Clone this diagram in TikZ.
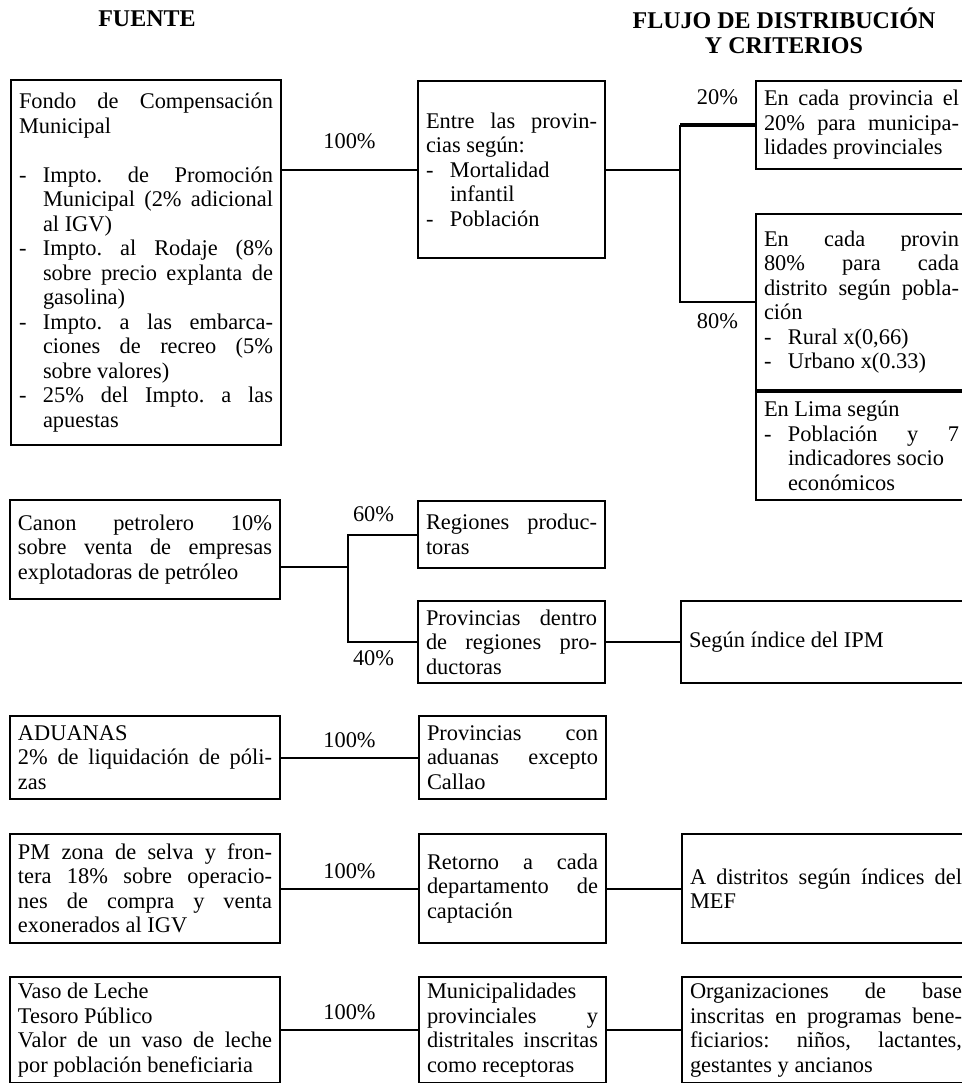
\documentclass[tikz,border=0pt]{standalone}
\usepackage{fontspec}
\setmainfont{Liberation Serif}
\usetikzlibrary{positioning}

\setlength{\parindent}{0pt}
\hbadness=10000
\frenchspacing
\newcommand{\itm}[1]{\par\noindent\hangindent=12pt\hangafter=1\makebox[12pt][l]{-}#1\par}

\tikzset{
  caja/.style={draw, line width=1pt, rectangle, inner xsep=4pt, inner ysep=1pt,
    align=justify, font=\fontsize{11.2}{12.25}\selectfont},
  fuente/.style={caja, text width=127pt},
  medio/.style={caja, text width=85.5pt},
  estrecho/.style={caja, text width=97.5pt},
  ancho/.style={caja, text width=136pt},
  titulo/.style={font=\bfseries\fontsize{12}{12.5}\selectfont},
  flujo/.style={line width=1pt},
  pct/.style={font=\fontsize{11.2}{12.25}\selectfont}
}

\begin{document}
\begin{tikzpicture}[x=0.5pt, y=-0.5pt]
  \clip (0,0) rectangle (962,1083);

  % Titles:
  \node[titulo] (tfuente) at (147,19) {FUENTE};
  \node[titulo, align=center] (tflujo) at (784,31) {FLUJO DE DISTRIBUCIÓN\\Y CRITERIOS};

  % Nodes:
  \node[fuente, minimum height=182.5pt, anchor=north west] (fondo) at (10,79) {%
    Fondo de Compensación\linebreak Municipal\par\vskip12.25pt
    \itm{Impto. de Promoción\linebreak Municipal (2\% adicional\linebreak al IGV)}
    \itm{Impto. al Rodaje (8\%\linebreak sobre precio explanta de\linebreak gasolina)}
    \itm{Impto. a las embarca-\linebreak ciones de recreo (5\%\linebreak sobre valores)}
    \itm{25\% del Impto. a las\linebreak apuestas}};
  \node[medio, minimum height=88.5pt, anchor=north west] (entre) at (417,80) {%
    Entre las provin-\linebreak cias según:
    \itm{Mortalidad\newline infantil}
    \itm{Población}};
  \node[estrecho, minimum height=44pt, anchor=north west] (prov20) at (755,80) {%
    En cada provincia el\linebreak 20\% para municipa-\linebreak lidades provinciales};
  \node[estrecho, minimum height=88pt, anchor=north west] (prov80) at (755,213) {%
    En cada provin\linebreak 80\% para cada\linebreak distrito según pobla-\linebreak ción
    \itm{Rural x(0,66)}
    \itm{Urbano x(0.33)}};
  \node[estrecho, minimum height=54pt, below=0pt of prov80] (lima) {%
    En Lima según
    \itm{Población y 7\linebreak indicadores socio\newline económicos}};

  \node[fuente, minimum height=49.5pt, anchor=north west] (canon) at (9,499) {%
    Canon petrolero 10\%\linebreak sobre venta de empresas\linebreak explotadoras de petróleo};
  \node[medio, minimum height=33.5pt, anchor=north west] (regiones) at (417,500) {%
    Regiones produc-\linebreak toras};
  \node[medio, minimum height=41pt, anchor=north west] (provdentro) at (417,600) {%
    Provincias dentro\linebreak de regiones pro-\linebreak ductoras};
  \node[ancho, minimum height=41pt, right=37pt of provdentro] (ipm) {%
    Según índice del IPM};

  \node[fuente, minimum height=41.5pt, anchor=north west] (aduanas) at (9,715) {%
    ADUANAS\par 2\% de liquidación de póli-\linebreak zas};
  \node[medio, minimum height=41.5pt, right=68.5pt of aduanas] (provadu) {%
    Provincias con\linebreak aduanas excepto\linebreak Callao};

  \node[fuente, minimum height=54.5pt, anchor=north west] (pmzona) at (9,833) {%
    PM zona de selva y fron-\linebreak tera 18\% sobre operacio-\linebreak nes de compra y venta\linebreak exonerados al IGV};
  \node[medio, minimum height=54.5pt, right=68.5pt of pmzona] (retorno) {%
    Retorno a cada\linebreak departamento de\linebreak captación};
  \node[ancho, minimum height=54.5pt, right=37pt of retorno] (mef) {%
    A distritos según índices del\linebreak MEF};

  \node[fuente, minimum height=53pt, anchor=north west] (vaso) at (9,976) {%
    Vaso de Leche\par Tesoro Público\par
    Valor de un vaso de leche\linebreak por población beneficiaria};
  \node[medio, minimum height=53pt, right=68.5pt of vaso] (muni) {%
    Municipalidades\linebreak provinciales y\linebreak distritales inscritas\linebreak como receptoras};
  \node[ancho, minimum height=53pt, right=37pt of muni] (orga) {%
    Organizaciones de base\linebreak inscritas en programas bene-\linebreak ficiarios: niños, lactantes,\linebreak gestantes y ancianos};

  % Connections:
  \coordinate (b1) at (680,168);
  \coordinate (b2) at (348,567);

  \draw[flujo] (entre.west -| fondo.east) -- node[pct, above=6.5pt] {100\%} (entre.west);
  \draw[flujo] (entre.east) -- (entre.east -| b1);
  \draw[line width=1.6pt] (prov20.west) -- node[pct, above=6pt] {20\%} (prov20.west -| b1);
  \draw[flujo] (prov20.west -| b1) -- (prov80.west -| b1)
    -- node[pct, below=2pt] {80\%} (prov80.west);

  \draw[flujo] (b2 -| canon.east) -- (b2);
  \draw[flujo] (regiones.west) -- node[pct, pos=0.63, above=2.5pt] {60\%} (regiones.west -| b2)
    -- (provdentro.west -| b2) -- node[pct, pos=0.37, below=0.5pt] {40\%} (provdentro.west);
  \draw[flujo] (provdentro.east) -- (ipm.west);

  \draw[flujo] (aduanas.east) -- node[pct, above=1.25pt] {100\%} (provadu.west);

  \draw[flujo] (pmzona.east) -- node[pct, above=1.25pt] {100\%} (retorno.west);
  \draw[flujo] (retorno.east) -- (mef.west);

  \draw[flujo] (vaso.east) -- node[pct, above=1.25pt] {100\%} (muni.west);
  \draw[flujo] (muni.east) -- (orga.west);

\end{tikzpicture}
\end{document}
